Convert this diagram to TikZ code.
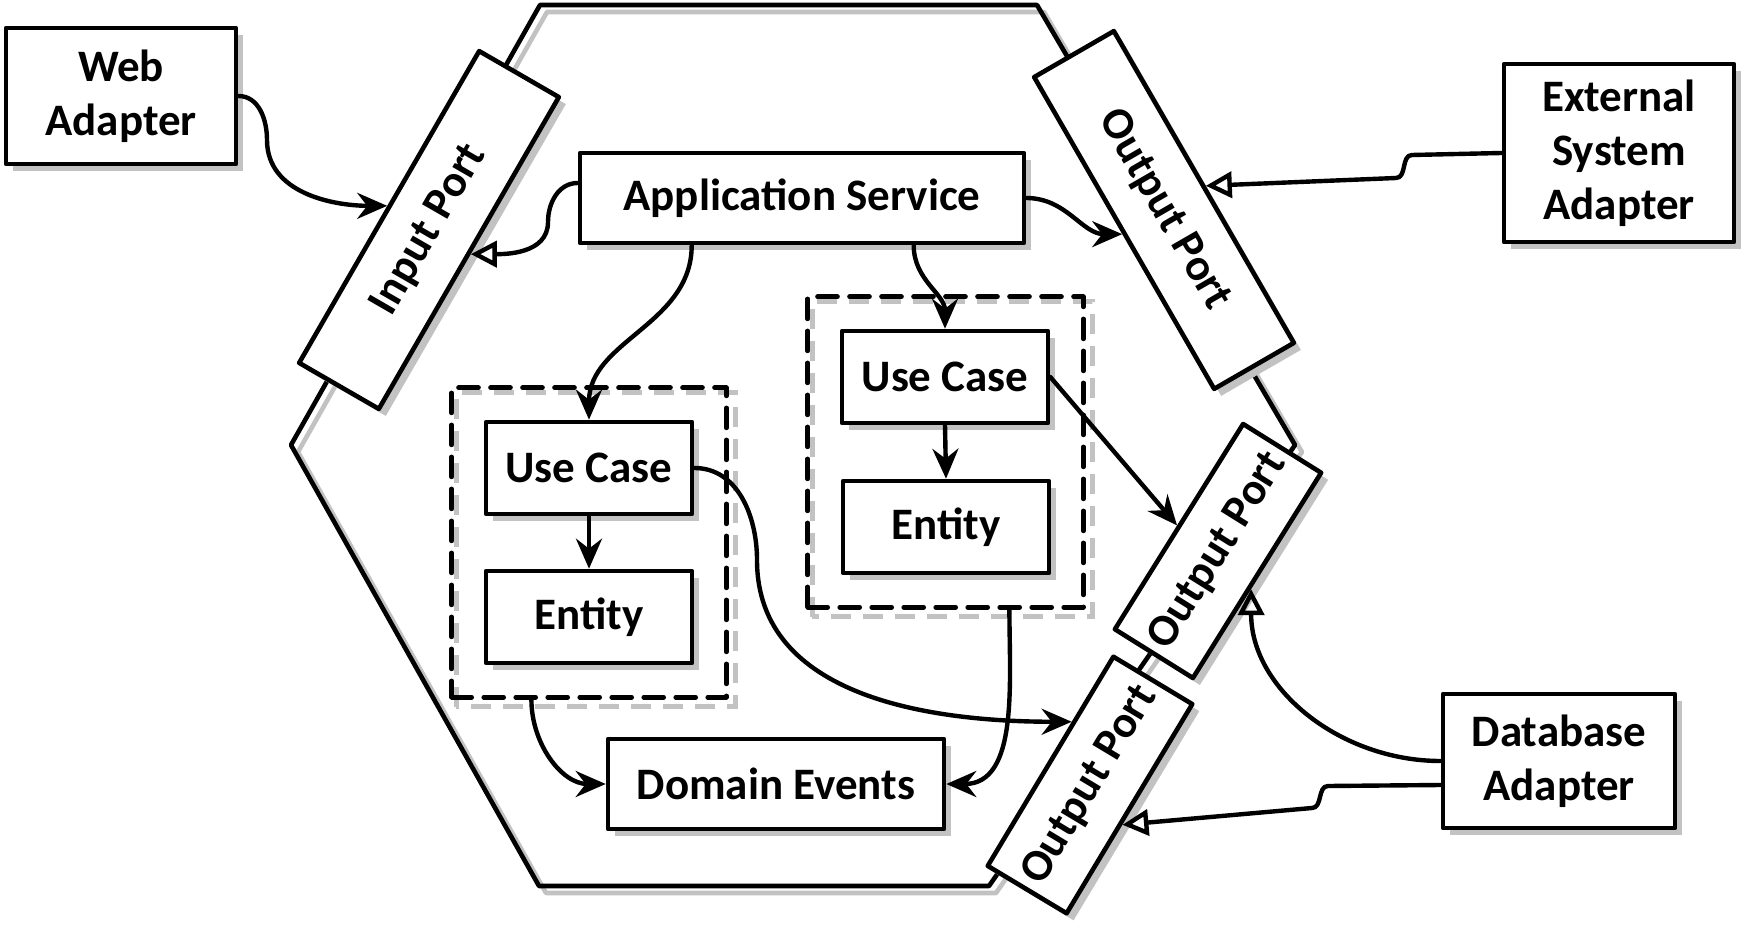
\documentclass[tikz,border=0pt]{standalone}
\usepackage{fontspec}
\setmainfont{Carlito}
\usetikzlibrary{arrows.meta,calc,fit,shadows,backgrounds}
\definecolor{shadowgray}{rgb}{0.76,0.76,0.76}
\tikzset{
  box/.style={draw, line width=2.3pt, fill=white, align=center, inner sep=2pt,
    font=\bfseries\fontsize{22.5}{27}\selectfont,
    drop shadow={shadow xshift=3.5pt, shadow yshift=-3.5pt, fill=shadowgray, opacity=1}},
  port/.style={box, minimum height=46pt},
  group/.style={draw, line width=2.3pt, dash pattern=on 10pt off 6pt, inner sep=16pt},
  flow/.style={line width=2.2pt, -{Stealth[length=15pt,width=13pt,inset=5pt]}},
  impl/.style={line width=2.2pt, -{Triangle[open,length=13pt,width=13pt]}},
  shadowline/.style={draw=shadowgray, line width=2.3pt},
}

\begin{document}
\begin{tikzpicture}[x=0.5pt,y=0.5pt,line cap=round,line join=round]
  \useasboundingbox (0,0) rectangle (1743,-945);
  % hexagon
  \draw[shadowline, shift={(7,-7)}] (540,-5) -- (1037,-5) -- (1295,-445) -- (989,-886) -- (539,-886) -- (291,-445) -- cycle;
  \draw[line width=2.3pt] (540,-5) -- (1037,-5) -- (1295,-445) -- (989,-886) -- (539,-886) -- (291,-445) -- cycle;
  % adapters
  \node[box, minimum width=115pt, minimum height=68pt] (wa) at (121,-96) {Web\\Adapter};
  \node[box, minimum width=115pt, minimum height=89pt] (esa) at (1619,-153) {External\\System\\Adapter};
  \node[box, minimum width=116pt, minimum height=67pt] (dba) at (1559,-761) {Database\\Adapter};
  % core
  \node[box, minimum width=222pt, minimum height=45pt] (as) at (802,-198) {Application Service};
  \node[box, minimum width=103pt, minimum height=46pt] (ucl) at (589,-468) {Use Case};
  \node[box, minimum width=103pt, minimum height=46pt] (enl) at (589,-617) {Entity};
  \node[box, minimum width=103pt, minimum height=46pt] (ucr) at (945,-377) {Use Case};
  \node[box, minimum width=103pt, minimum height=46pt] (enr) at (946,-527) {Entity};
  \node[box, minimum width=168pt, minimum height=45pt] (de) at (776,-784) {Domain Events};
  \node[group, fit=(ucl)(enl)] (gl) {};
  \node[group, fit=(ucr)(enr)] (gr) {};
  \begin{scope}[on background layer]
    \draw[shadowline, dash pattern=on 10pt off 6pt] ($(gl.south west)+(7,-7)$) rectangle ($(gl.north east)+(7,-7)$);
    \draw[shadowline, dash pattern=on 10pt off 6pt] ($(gr.south west)+(7,-7)$) rectangle ($(gr.north east)+(7,-7)$);
  \end{scope}
  % ports
  \node[port, minimum width=180pt, rotate=60] (ip) at (429,-230) {Input Port};
  \node[port, minimum width=180pt, rotate=-60] (op1) at (1164,-210) {Output Port};
  \node[port, minimum width=121pt, rotate=58] (op2) at (1218,-551) {Output Port};
  \node[port, minimum width=122pt, rotate=59] (op3) at (1090,-785) {Output Port};
  % connectors
  \draw[flow] (wa.east) to[out=0,in=90] (267,-140) to[out=-90,in=180] (ip.north);
  \draw[impl] ($(as.west)+(0,15)$) to[out=180,in=90] (548,-222) to[out=-90,in=0] (ip.south);
  \draw[flow] (as.east) to[out=0,in=180] (op1.south);
  \draw[impl] (esa.west) -- (1412,-155) to[out=180,in=0] (1396,-178) -- (op1.north);
  \draw[flow] ($(as.south west)+(114,0)$) to[out=-90,in=90] (ucl.north);
  \draw[flow] ($(as.south west)+(336,0)$) to[out=-90,in=90] (ucr.north);
  \draw[flow] (ucl.south) -- (enl.north);
  \draw[flow] (ucr.south) -- (enr.north);
  \draw[flow] (ucr.east) -- (op2.north);
  \draw[flow] (ucl.east) to[out=0,in=90] (757,-560) to[out=-90,in=180] ($(op3.north west)!0.68!(op3.north east)$);
  \draw[flow] ($(gl.south west)+(82,0)$) to[out=-90,in=180] (de.west);
  \draw[flow] ($(gr.south west)+(204,0)$) to[out=-90,in=0] (de.east);
  \draw[impl] (dba.west) to[out=180,in=-90] ($(op2.south west)!0.44!(op2.south east)$);
  \draw[impl] ($(dba.west)+(0,-24)$) -- (1328,-786) to[out=180,in=0] (1312,-808) -- ($(op3.south west)!0.43!(op3.south east)$);
\end{tikzpicture}
\end{document}
